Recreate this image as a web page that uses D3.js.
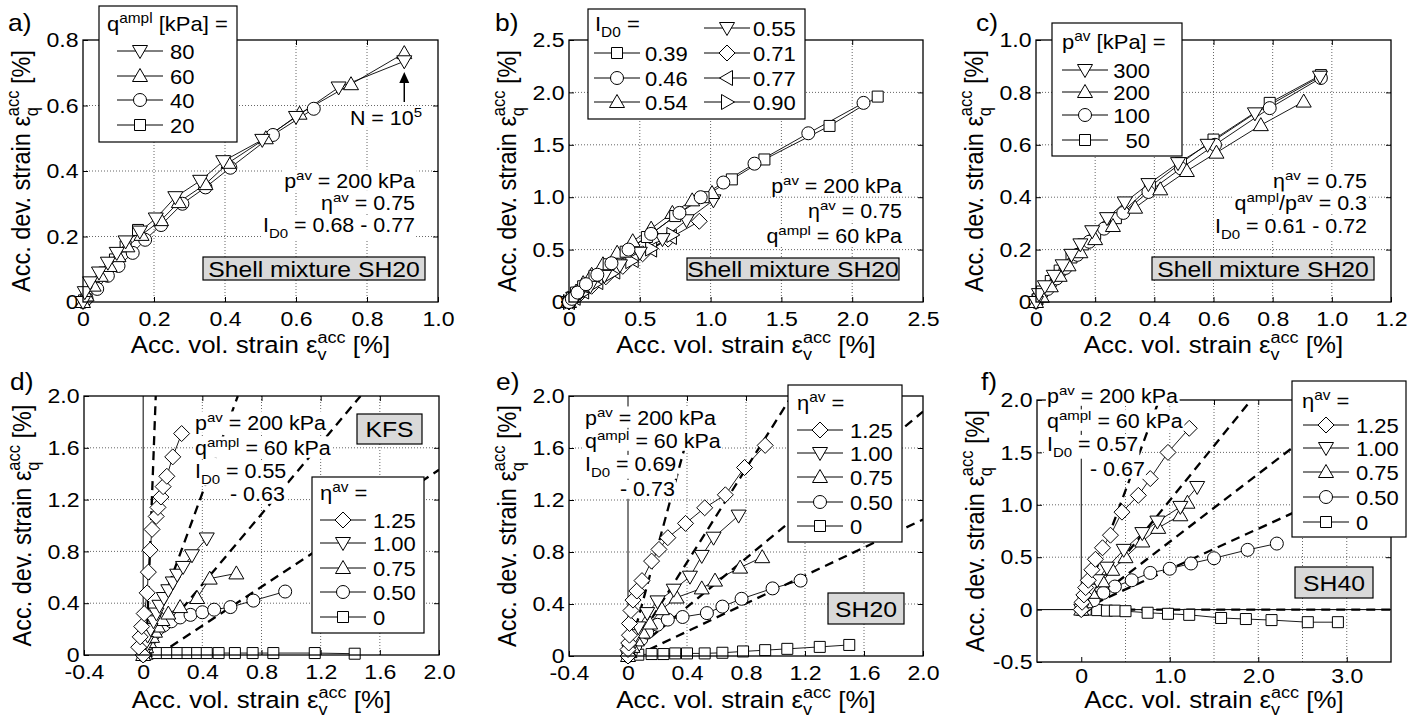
<!DOCTYPE html>
<html><head><meta charset="utf-8">
<script src="https://cdn.jsdelivr.net/npm/d3@7"></script>
<style>
body{margin:0;background:#fff}
svg{font-family:"Liberation Sans",Arial,Helvetica,sans-serif}
</style></head><body>
<div id="chart"></div>
<script>
// ---------- data ----------
// a) q_ampl variation
const a_q80 = [[0,0],[0.005,0.03],[0.02,0.06],[0.045,0.09],[0.07,0.12],[0.095,0.15],[0.12,0.185],[0.16,0.215],[0.205,0.255],[0.26,0.32],[0.33,0.37],[0.395,0.43],[0.505,0.495],[0.6,0.565],[0.72,0.655],[0.905,0.735]];
const a_q60 = [[0,0],[0.01,0.02],[0.03,0.05],[0.05,0.08],[0.075,0.11],[0.1,0.14],[0.125,0.17],[0.165,0.205],[0.22,0.25],[0.27,0.305],[0.345,0.36],[0.41,0.425],[0.515,0.5],[0.61,0.575],[0.755,0.665],[0.905,0.76]];
const a_q40 = [[0,0],[0.01,0.01],[0.04,0.04],[0.07,0.08],[0.1,0.11],[0.14,0.15],[0.175,0.19],[0.22,0.235],[0.28,0.3],[0.345,0.35],[0.415,0.41],[0.535,0.51],[0.65,0.59]];
const a_q20 = [[0,0],[0.003,0.005],[0.01,0.02],[0.03,0.05],[0.06,0.09],[0.09,0.13],[0.12,0.17],[0.155,0.22]];
const aLegend = ["80","60","40","20"];
const aXTicks = [0,0.2,0.4,0.6,0.8,1.0], aXGrid = [0.2,0.4,0.6,0.8];
const aYTicks = [0,0.2,0.4,0.6,0.8], aYGrid = [0.2,0.4,0.6];

// b) I_D0 variation
const b_039 = [[0,0],[0.02,0.04],[0.05,0.09],[0.1,0.15],[0.18,0.25],[0.28,0.36],[0.4,0.48],[0.55,0.62],[0.75,0.82],[0.95,1.0],[1.15,1.17],[1.38,1.36],[1.84,1.68],[2.18,1.96]];
const b_046 = [[0,0],[0.02,0.03],[0.06,0.09],[0.12,0.17],[0.2,0.26],[0.3,0.37],[0.42,0.5],[0.58,0.65],[0.78,0.85],[0.93,1.0],[1.09,1.14],[1.31,1.32],[1.69,1.61],[2.08,1.9]];
const b_054 = [[0,0],[0.02,0.05],[0.05,0.1],[0.1,0.18],[0.16,0.26],[0.24,0.36],[0.34,0.47],[0.45,0.58],[0.58,0.7],[0.73,0.85],[0.87,0.97],[1.01,1.04]];
const b_055 = [[0,0],[0.03,0.04],[0.08,0.09],[0.15,0.15],[0.25,0.25],[0.36,0.35],[0.5,0.47],[0.66,0.6],[0.83,0.78],[1.02,0.97]];
const b_071 = [[0,0],[0.03,0.03],[0.08,0.08],[0.16,0.15],[0.26,0.24],[0.38,0.34],[0.52,0.46],[0.7,0.6],[0.92,0.77]];
const b_077 = [[0,0],[0.04,0.04],[0.1,0.1],[0.2,0.19],[0.32,0.29],[0.45,0.4],[0.58,0.5],[0.72,0.62]];
const b_090 = [[0,0],[0.03,0.03],[0.09,0.08],[0.18,0.17],[0.3,0.27],[0.44,0.39],[0.58,0.51],[0.73,0.64]];
const bLegend = ["0.39","0.46","0.54","0.55","0.71","0.77","0.90"];
const bXTicks = [0,0.5,1.0,1.5,2.0,2.5], bXGrid = [0.5,1.0,1.5,2.0];
const bYTicks = [0,0.5,1.0,1.5,2.0,2.5], bYGrid = [0.5,1.0,1.5,2.0];

// c) p_av variation
const c_300 = [[0,0],[0.01,0.03],[0.03,0.06],[0.06,0.1],[0.09,0.14],[0.12,0.18],[0.15,0.22],[0.19,0.27],[0.24,0.32],[0.3,0.38],[0.38,0.45],[0.48,0.53],[0.58,0.6],[0.74,0.72],[0.96,0.86]];
const c_200 = [[0,0],[0.02,0.02],[0.05,0.06],[0.08,0.1],[0.11,0.14],[0.15,0.19],[0.2,0.24],[0.26,0.29],[0.335,0.36],[0.42,0.43],[0.51,0.5],[0.61,0.57],[0.76,0.675],[0.905,0.765]];
const c_100 = [[0,0],[0.01,0.02],[0.04,0.05],[0.07,0.09],[0.1,0.13],[0.14,0.18],[0.18,0.23],[0.23,0.28],[0.295,0.34],[0.38,0.42],[0.49,0.51],[0.605,0.6],[0.79,0.74],[0.963,0.855]];
const c_50 = [[0,0],[0.005,0.01],[0.02,0.04],[0.05,0.08],[0.08,0.12],[0.12,0.17],[0.16,0.22],[0.2,0.26],[0.27,0.32],[0.385,0.44],[0.49,0.53],[0.6,0.62],[0.79,0.76],[0.963,0.866]];
const cLegend = ["300","200","100","50"];
const cXTicks = [0,0.2,0.4,0.6,0.8,1.0,1.2], cXGrid = [0.2,0.4,0.6,0.8,1.0];
const cYTicks = [0,0.2,0.4,0.6,0.8,1.0], cYGrid = [0.2,0.4,0.6,0.8];

// d) KFS, eta_av variation
const d_125 = [[0,0],[-0.03,0.06],[-0.02,0.14],[-0.01,0.22],[0.007,0.32],[0.027,0.48],[0.035,0.64],[0.047,0.81],[0.06,0.97],[0.088,1.07],[0.1,1.14],[0.12,1.22],[0.135,1.3],[0.16,1.38],[0.2,1.53],[0.26,1.71]];
const d_100 = [[0,0],[0.01,0.05],[0.02,0.1],[0.03,0.15],[0.05,0.2],[0.07,0.26],[0.09,0.32],[0.11,0.38],[0.14,0.44],[0.17,0.5],[0.2,0.56],[0.23,0.62],[0.27,0.68],[0.33,0.77],[0.43,0.9]];
const d_075 = [[0,0],[0.01,0.03],[0.02,0.06],[0.04,0.1],[0.06,0.14],[0.08,0.18],[0.1,0.22],[0.13,0.27],[0.17,0.32],[0.25,0.37],[0.365,0.44],[0.45,0.59],[0.63,0.63]];
const d_050 = [[0,0],[0.02,0.06],[0.04,0.11],[0.07,0.16],[0.1,0.2],[0.14,0.23],[0.19,0.26],[0.25,0.29],[0.32,0.31],[0.4,0.33],[0.48,0.35],[0.59,0.37],[0.745,0.42],[0.96,0.49]];
const d_000 = [[0,0],[0.03,0.01],[0.095,0.015],[0.16,0.015],[0.23,0.015],[0.3,0.015],[0.365,0.015],[0.43,0.015],[0.51,0.015],[0.62,0.015],[0.74,0.015],[0.88,0.015],[1.16,0.015],[1.43,0.01]];
const dDashed = [[[0.02,0],[0.085,2.0]],[[0,0],[0.64,2.0]],[[0,0],[1.47,2.0]],[[0.1,0],[2.0,1.43]]];
const etaLegend = ["1.25","1.00","0.75","0.50","0"];
const dXTicks = [-0.4,0,0.4,0.8,1.2,1.6,2.0], dXGrid = [0.4,0.8,1.2,1.6];
const dYTicks = [0,0.4,0.8,1.2,1.6,2.0], dYGrid = [0.4,0.8,1.2,1.6];

// e) SH20, eta_av variation
const e_125 = [[0,0],[0,0.05],[0.005,0.1],[0.01,0.16],[0.01,0.25],[0.02,0.35],[0.034,0.43],[0.06,0.5],[0.095,0.58],[0.16,0.73],[0.21,0.82],[0.27,0.91],[0.39,1.02],[0.52,1.14],[0.66,1.24],[0.79,1.45],[0.93,1.62]];
const e_100 = [[0,0],[0.01,0.04],[0.03,0.1],[0.05,0.16],[0.07,0.22],[0.13,0.33],[0.2,0.42],[0.31,0.51],[0.42,0.61],[0.5,0.77],[0.58,0.91],[0.75,1.08]];
const e_075 = [[0,0],[0.01,0.03],[0.03,0.07],[0.06,0.12],[0.1,0.18],[0.15,0.25],[0.23,0.36],[0.33,0.45],[0.5,0.52],[0.59,0.58],[0.76,0.68],[0.91,0.76]];
const e_050 = [[0,0],[0.02,0.03],[0.05,0.08],[0.09,0.13],[0.13,0.18],[0.2,0.24],[0.27,0.28],[0.37,0.3],[0.535,0.33],[0.64,0.38],[0.77,0.44],[0.98,0.52],[1.17,0.58]];
const e_000 = [[0,0],[0.07,0.01],[0.16,0.015],[0.24,0.015],[0.32,0.02],[0.4,0.02],[0.52,0.02],[0.64,0.025],[0.78,0.035],[0.93,0.045],[1.08,0.055],[1.3,0.07],[1.5,0.085]];
const eDashed = [[[0,0],[0.455,1.9]],[[0,0],[1.11,2.0]],[[0,0],[2.0,1.88]],[[0.05,0],[2.0,1.05]]];
const eXTicks = dXTicks, eXGrid = dXGrid, eYTicks = dYTicks, eYGrid = dYGrid;

// f) SH40, eta_av variation
const f_125 = [[0,0],[0.01,0.07],[0.03,0.14],[0.05,0.21],[0.08,0.28],[0.12,0.38],[0.16,0.48],[0.24,0.59],[0.33,0.71],[0.46,0.93],[0.645,1.09],[0.78,1.25],[0.98,1.5],[1.22,1.73]];
const f_100 = [[0,0],[0.03,0.09],[0.1,0.19],[0.18,0.28],[0.29,0.4],[0.48,0.57],[0.69,0.73],[0.86,0.84],[1.12,0.98],[1.31,1.17]];
const f_075 = [[0,0],[0.05,0.07],[0.12,0.16],[0.24,0.27],[0.35,0.38],[0.5,0.5],[0.69,0.65],[0.87,0.78],[1.12,0.9],[1.2,1.02]];
const f_050 = [[0,0],[0.05,0.04],[0.14,0.09],[0.25,0.16],[0.38,0.22],[0.57,0.28],[0.78,0.35],[1.0,0.39],[1.24,0.44],[1.5,0.49],[1.88,0.57],[2.21,0.63]];
const f_000 = [[0,0],[0.05,0],[0.18,-0.005],[0.29,-0.01],[0.38,-0.01],[0.5,-0.015],[0.75,-0.03],[0.98,-0.04],[1.22,-0.05],[1.58,-0.08],[1.86,-0.09],[2.15,-0.1],[2.56,-0.12],[2.9,-0.12]];
const fDashed = [[[0,0],[0.88,2.0]],[[0,0],[1.92,2.0]],[[0,0],[3.09,2.0]],[[0,0],[3.5,1.35]],[[0,0],[3.5,0]]];
const fXTicks = [0,1.0,2.0,3.0], fXGrid = [0.5,1.0,1.5,2.0,2.5,3.0];
const fYTicks = [-0.5,0,0.5,1.0,1.5,2.0], fYGrid = [0.5,1.0,1.5];

// ---------- drawing ----------
const SX = 1.1;               // the original lettering is a little wide
const FS_TICK = 21, FS_AX = 23.5, FS_NOTE = 19.5, FS_LEG = 20, FS_BOX = 22.5, FS_LET = 24;
const svg = d3.select("#chart").append("svg").attr("width", 1424).attr("height", 720);

const MK = {
  sq: "M-5.5,-5.5H5.5V5.5H-5.5Z",
  ci: "M6.5,0A6.5,6.5 0 1,1 -6.5,0A6.5,6.5 0 1,1 6.5,0Z",
  up: "M0,-7.5L7.5,5.5L-7.5,5.5Z",
  dn: "M0,7.5L7.5,-5.5L-7.5,-5.5Z",
  lt: "M-7.5,0L5.5,-7.5L5.5,7.5Z",
  rt: "M7.5,0L-5.5,-7.5L-5.5,7.5Z",
  di: "M0,-8L8,0L0,8L-8,0Z"
};

// text with super/subscripts; ["acc","ss","q"] stacks sup over sub
function rich(t, segs, fs) {
  let cur = 0, pend = 0;
  segs.forEach(s => {
    if (typeof s === "string") s = [s, "n"];
    if (s[1] === "ss") {
      let a = t.append("tspan").attr("font-size", fs*0.7).attr("dy", -0.42*fs - cur).text(s[0]);
      if (pend) a.attr("dx", pend);
      let w1 = a.node().getComputedTextLength();
      let b = t.append("tspan").attr("font-size", fs*0.7).attr("dx", -w1).attr("dy", 0.72*fs).text(s[2]);
      let w2 = b.node().getComputedTextLength();
      cur = 0.3*fs; pend = Math.max(0, w1 - w2);
      return;
    }
    let target = s[1] === "sup" ? -0.42*fs : s[1] === "sub" ? 0.3*fs : 0;
    let ts = t.append("tspan").attr("dy", target - cur).text(s[0]);
    if (pend) ts.attr("dx", pend);
    pend = 0;
    if (s[1] !== "n") ts.attr("font-size", fs*0.7);
    cur = target;
  });
}

function label(parent, x, y, segs, anchor, bg, fs, rot) {
  const g = parent.append("g").attr("transform", `translate(${x},${y}) scale(${SX},1)` + (rot ? " rotate(-90)" : ""));
  const t = g.append("text").attr("text-anchor", anchor || "start").attr("font-size", fs);
  rich(t, segs, fs);
  if (bg) {
    const b = t.node().getBBox();
    g.insert("rect", () => t.node()).attr("x", b.x - 1).attr("y", b.y + 2)
      .attr("width", b.width + 2).attr("height", b.height - 3).attr("fill", "#fff");
  }
  return g;
}

const fmt = d => d === 0 ? "0" : d.toFixed(1);

function panel(c) {
  const g = svg.append("g");
  const x = d3.scaleLinear().domain(c.xd).range([c.L, c.R]);
  const y = d3.scaleLinear().domain(c.yd).range([c.B, c.T]);

  // dotted grid
  g.append("g").selectAll("line").data(c.xg).join("line")
    .attr("x1", d => x(d)).attr("x2", d => x(d)).attr("y1", c.T).attr("y2", c.B)
    .attr("stroke", "#555").attr("stroke-width", 0.9).attr("stroke-dasharray", "1,2");
  g.append("g").selectAll("line").data(c.yg).join("line")
    .attr("y1", d => y(d)).attr("y2", d => y(d)).attr("x1", c.L).attr("x2", c.R)
    .attr("stroke", "#555").attr("stroke-width", 0.9).attr("stroke-dasharray", "1,2");

  // solid zero lines
  if (c.zeroX) g.append("line").attr("x1", x(0)).attr("x2", x(0)).attr("y1", y(c.zeroX[0])).attr("y2", y(c.zeroX[1])).attr("stroke", "#000").attr("stroke-width", 1);
  if (c.zeroY) g.append("line").attr("x1", c.L).attr("x2", c.R).attr("y1", y(0)).attr("y2", y(0)).attr("stroke", "#000").attr("stroke-width", 1);

  // axes (labels bottom/left, inward ticks all round)
  const styleAx = a => {
    a.select(".domain").remove();
    a.attr("font-size", FS_TICK).attr("font-family", null);
    a.selectAll("line").attr("stroke", "#000");
    a.selectAll("text").attr("transform", `scale(${SX},1)`);
  };
  g.append("g").attr("transform", `translate(0,${c.B})`)
    .call(d3.axisBottom(x).tickValues(c.xt).tickFormat(fmt).tickSizeInner(-5).tickSizeOuter(0).tickPadding(c.xpad || 9)).call(styleAx);
  g.append("g").attr("transform", `translate(${c.L},0)`)
    .call(d3.axisLeft(y).tickValues(c.yt).tickFormat(fmt).tickSizeInner(-5).tickSizeOuter(0).tickPadding(4)).call(styleAx);
  g.append("g").attr("transform", `translate(0,${c.T})`)
    .call(d3.axisTop(x).tickValues(c.xg).tickFormat("").tickSizeInner(-5).tickSizeOuter(0)).call(styleAx);
  g.append("g").attr("transform", `translate(${c.R},0)`)
    .call(d3.axisRight(y).tickValues(c.yg).tickFormat("").tickSizeInner(-5).tickSizeOuter(0)).call(styleAx);

  // dashed prediction lines
  const clipId = "clip" + c.id;
  g.append("clipPath").attr("id", clipId).append("rect")
    .attr("x", c.L).attr("y", c.T).attr("width", c.R - c.L).attr("height", c.B - c.T);
  const line = d3.line().x(d => x(d[0])).y(d => y(d[1]));
  g.append("g").attr("clip-path", `url(#${clipId})`).selectAll("path").data(c.dashed || []).join("path")
    .attr("d", line).attr("fill", "none").attr("stroke", "#000").attr("stroke-width", 2.3).attr("stroke-dasharray", "9,6");

  // series: thin connecting line + open markers
  c.series.forEach(s => {
    g.append("path").datum(s.d).attr("d", line).attr("fill", "none").attr("stroke", "#000").attr("stroke-width", 0.9);
  });
  c.series.forEach(s => {
    g.append("g").selectAll("path").data(s.d).join("path")
      .attr("d", MK[s.m]).attr("transform", d => `translate(${x(d[0])},${y(d[1])})`)
      .attr("fill", "#fff").attr("stroke", "#000").attr("stroke-width", 1);
  });

  // frame
  g.append("rect").attr("x", c.L).attr("y", c.T).attr("width", c.R - c.L).attr("height", c.B - c.T)
    .attr("fill", "none").attr("stroke", "#000").attr("stroke-width", 1.3);

  // axis titles and panel letter
  label(g, (c.L + c.R) / 2, c.xl, ["Acc. vol. strain ε", ["acc", "ss", "v"], " [%]"], "middle", false, FS_AX);
  label(g, c.L - 53, (c.T + c.B) / 2, ["Acc. dev. strain ε", ["acc", "ss", "q"], " [%]"], "middle", false, FS_AX, true);
  label(g, c.pl[0], c.pl[1], [c.letter], "start", false, FS_LET);
  return {g, x, y};
}

function legend(lg) {
  const g = svg.append("g");
  g.append("rect").attr("x", lg.box[0]).attr("y", lg.box[1]).attr("width", lg.box[2] - lg.box[0])
    .attr("height", lg.box[3] - lg.box[1]).attr("fill", "#fff").attr("stroke", "#000").attr("stroke-width", 1.2);
  label(g, lg.title[0], lg.title[1], lg.title[2], "start", false, FS_LEG);
  lg.items.forEach(it => {
    g.append("line").attr("x1", it.x - 23).attr("x2", it.x + 23).attr("y1", it.y).attr("y2", it.y)
      .attr("stroke", "#000").attr("stroke-width", 1);
    g.append("path").attr("d", MK[it.m]).attr("transform", `translate(${it.x},${it.y})`)
      .attr("fill", "#fff").attr("stroke", "#000");
    label(g, it.tx, it.y + 7.5, [it.label], it.anchor || "start", false, FS_LEG);
  });
}

function grayBox(x0, y0, x1, y1, txt) {
  const g = svg.append("g");
  g.append("rect").attr("x", x0).attr("y", y0).attr("width", x1 - x0).attr("height", y1 - y0)
    .attr("fill", "#d9d9d9").attr("stroke", "#000").attr("stroke-width", 1.2);
  label(g, (x0 + x1) / 2, (y0 + y1) / 2 + FS_BOX * 0.36, [txt], "middle", false, FS_BOX);
}

const note = (g, x, y, segs, anchor) => label(g, x, y, segs, anchor, true, FS_NOTE);

// ---- panel a ----
const pa = panel({id: "a", L: 83, R: 438, T: 40, B: 302, xd: [0, 1.0], yd: [0, 0.8], xl: 353,
  xt: aXTicks, xg: aXGrid, yt: aYTicks, yg: aYGrid, letter: "a)", pl: [8, 31],
  series: [{d: a_q20, m: "sq"}, {d: a_q40, m: "ci"}, {d: a_q60, m: "up"}, {d: a_q80, m: "dn"}]});
legend({box: [99, 6, 237, 142], title: [107, 31, ["q", ["ampl", "sup"], " [kPa] ="]],
  items: ["dn", "up", "ci", "sq"].map((m, i) => ({m, x: 140, y: [51, 76, 100, 125][i], tx: 170, label: aLegend[i]}))});
[["p", ["av", "sup"], " = 200 kPa"], ["η", ["av", "sup"], " = 0.75"], ["I", ["D0", "sub"], " = 0.68 - 0.77"]]
  .forEach((s, i) => note(pa.g, 415, [188, 210, 232][i], s, "end"));
note(pa.g, 422, 125, ["N = 10", ["5", "sup"]], "end");
pa.g.append("line").attr("x1", pa.x(0.905)).attr("x2", pa.x(0.905)).attr("y1", 102).attr("y2", 80).attr("stroke", "#000").attr("stroke-width", 1.5);
pa.g.append("path").attr("d", `M${pa.x(0.905)},72l-5,11h10z`).attr("fill", "#000");
grayBox(203, 257, 425, 280, "Shell mixture SH20");

// ---- panel b ----
const pb = panel({id: "b", L: 569, R: 923, T: 40, B: 302, xd: [0, 2.5], yd: [0, 2.5], xl: 353,
  xt: bXTicks, xg: bXGrid, yt: bYTicks, yg: bYGrid, letter: "b)", pl: [495, 31],
  series: [{d: b_071, m: "di"}, {d: b_077, m: "lt"}, {d: b_090, m: "rt"}, {d: b_055, m: "dn"},
           {d: b_054, m: "up"}, {d: b_039, m: "sq"}, {d: b_046, m: "ci"}]});
legend({box: [588, 9, 805, 119], title: [595, 31, ["I", ["D0", "sub"], " ="]],
  items: [
    {m: "sq", x: 617, y: 53, tx: 645, label: bLegend[0]},
    {m: "ci", x: 617, y: 78, tx: 645, label: bLegend[1]},
    {m: "up", x: 617, y: 102, tx: 645, label: bLegend[2]},
    {m: "dn", x: 727, y: 28, tx: 753, label: bLegend[3]},
    {m: "di", x: 727, y: 53, tx: 753, label: bLegend[4]},
    {m: "lt", x: 727, y: 78, tx: 753, label: bLegend[5]},
    {m: "rt", x: 727, y: 102, tx: 753, label: bLegend[6]}]});
[["p", ["av", "sup"], " = 200 kPa"], ["η", ["av", "sup"], " = 0.75"], ["q", ["ampl", "sup"], " = 60 kPa"]]
  .forEach((s, i) => note(pb.g, 902, [193, 218, 243][i], s, "end"));
grayBox(687, 258, 899, 280, "Shell mixture SH20");

// ---- panel c ----
const pc = panel({id: "c", L: 1036, R: 1391, T: 40, B: 302, xd: [0, 1.2], yd: [0, 1.0], xl: 353,
  xt: cXTicks, xg: cXGrid, yt: cYTicks, yg: cYGrid, letter: "c)", pl: [976, 31],
  series: [{d: c_50, m: "sq"}, {d: c_100, m: "ci"}, {d: c_200, m: "up"}, {d: c_300, m: "dn"}]});
legend({box: [1052, 23, 1182, 156], title: [1062, 49, ["p", ["av", "sup"], " [kPa] ="]],
  items: ["dn", "up", "ci", "sq"].map((m, i) => ({m, x: 1085, y: [70, 92, 115, 140][i], tx: 1150, anchor: "end", label: cLegend[i]}))});
[["η", ["av", "sup"], " = 0.75"], ["q", ["ampl", "sup"], "/p", ["av", "sup"], " = 0.3"], ["I", ["D0", "sub"], " = 0.61 - 0.72"]]
  .forEach((s, i) => note(pc.g, 1367, [188, 210, 233][i], s, "end"));
grayBox(1152, 257, 1374, 280, "Shell mixture SH20");

// ---- panel d ----
const pd = panel({id: "d", L: 84, R: 439, T: 396, B: 655, xd: [-0.4, 2.0], yd: [0, 2.0], xl: 708,
  xt: dXTicks, xg: dXGrid, yt: dYTicks, yg: dYGrid, letter: "d)", pl: [10, 390], zeroX: [0, 2.0],
  dashed: dDashed,
  series: [{d: d_000, m: "sq"}, {d: d_050, m: "ci"}, {d: d_075, m: "up"}, {d: d_100, m: "dn"}, {d: d_125, m: "di"}]});
[["p", ["av", "sup"], " = 200 kPa"], ["q", ["ampl", "sup"], " = 60 kPa"], ["I", ["D0", "sub"], " = 0.55"]]
  .forEach((s, i) => note(pd.g, 195, [430, 455, 478][i], s, "start"));
note(pd.g, 230, 501, ["- 0.63"], "start");
grayBox(357, 414, 422, 444, "KFS");
legend({box: [312, 477, 424, 633], title: [320, 500, ["η", ["av", "sup"], " ="]],
  items: ["di", "dn", "up", "ci", "sq"].map((m, i) => ({m, x: 343, y: [520, 543, 568, 592, 617][i], tx: 373, label: etaLegend[i]}))});

// ---- panel e ----
const pe = panel({id: "e", L: 569, R: 923, T: 396, B: 656, xd: [-0.4, 2.0], yd: [0, 2.0], xl: 708,
  xt: eXTicks, xg: eXGrid, yt: eYTicks, yg: eYGrid, letter: "e)", pl: [496, 390], zeroX: [0, 2.0],
  dashed: eDashed,
  series: [{d: e_000, m: "sq"}, {d: e_050, m: "ci"}, {d: e_075, m: "up"}, {d: e_100, m: "dn"}, {d: e_125, m: "di"}]});
[["p", ["av", "sup"], " = 200 kPa"], ["q", ["ampl", "sup"], " = 60 kPa"], ["I", ["D0", "sub"], " = 0.69"]]
  .forEach((s, i) => note(pe.g, 585, [425, 448, 471][i], s, "start"));
note(pe.g, 620, 496, ["- 0.73"], "start");
grayBox(828, 593, 904, 624, "SH20");
legend({box: [788, 385, 902, 542], title: [797, 410, ["η", ["av", "sup"], " ="]],
  items: ["di", "dn", "up", "ci", "sq"].map((m, i) => ({m, x: 820, y: [430, 453, 477, 502, 526][i], tx: 850, label: etaLegend[i]}))});

// ---- panel f ----
const pf = panel({id: "f", L: 1037, R: 1391, T: 400, B: 662, xd: [-0.5, 3.5], yd: [-0.5, 2.0], xl: 708, xpad: 6,
  xt: fXTicks, xg: fXGrid, yt: fYTicks, yg: fYGrid, letter: "f)", pl: [981, 390], zeroX: [0, 2.0], zeroY: true,
  dashed: fDashed,
  series: [{d: f_000, m: "sq"}, {d: f_050, m: "ci"}, {d: f_075, m: "up"}, {d: f_100, m: "dn"}, {d: f_125, m: "di"}]});
[["p", ["av", "sup"], " = 200 kPa"], ["q", ["ampl", "sup"], " = 60 kPa"], ["I", ["D0", "sub"], " = 0.57"]]
  .forEach((s, i) => note(pf.g, 1047, [403, 428, 451][i], s, "start"));
note(pf.g, 1090, 476, ["- 0.67"], "start");
grayBox(1295, 567, 1373, 598, "SH40");
legend({box: [1292, 381, 1406, 537], title: [1302, 408, ["η", ["av", "sup"], " ="]],
  items: ["di", "dn", "up", "ci", "sq"].map((m, i) => ({m, x: 1326, y: [425, 448, 472, 497, 522][i], tx: 1356, label: etaLegend[i]}))});
</script>
</body></html>
